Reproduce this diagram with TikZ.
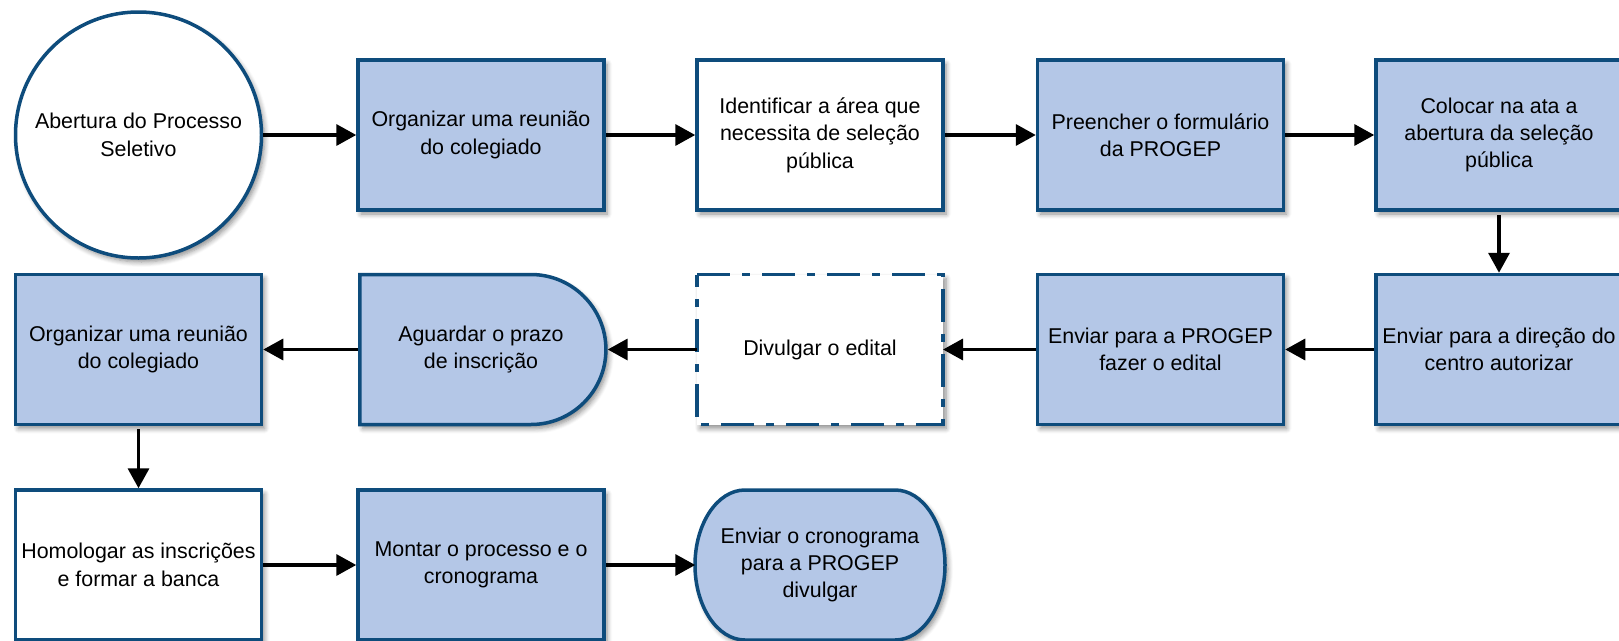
\documentclass[tikz,border=0pt]{standalone}
\usepackage{fontspec}
\setmainfont{Liberation Sans}
\usetikzlibrary{arrows.meta,shapes.misc,shadows.blur}
\definecolor{bord}{RGB}{14,76,124}
\definecolor{fillb}{RGB}{180,199,231}
\tikzset{
  shad/.style={blur shadow={shadow blur steps=6, shadow xshift=3pt, shadow yshift=-4pt, shadow opacity=45, shadow blur radius=5pt}},
  txt/.style={align=center, font=\fontsize{21.4pt}{27.4pt}\selectfont, inner sep=0pt},
  base/.style={txt, draw=bord, line width=3.5pt, shad},
  bluebox/.style={base, rectangle, fill=fillb, minimum width=246pt, minimum height=150pt},
  whitebox/.style={base, rectangle, fill=white, minimum width=246pt, minimum height=150pt},
  dashbox/.style={txt, rectangle, fill=white, shad, minimum width=246pt, minimum height=150pt, outer sep=0pt},
  dashline/.style={draw=bord, line width=3.5pt, line join=miter, dash pattern=on 33pt off 12pt on 8pt off 12pt},
  startcirc/.style={base, circle, fill=white, minimum size=246pt},
  delaybox/.style={base, rounded rectangle, rounded rectangle left arc=none, fill=fillb, minimum width=246pt, minimum height=150pt},
  termtext/.style={txt, rectangle, minimum width=246pt, minimum height=150pt, outer sep=1.75pt},
  termshape/.style={draw=bord, line width=3.5pt, fill=fillb, shad},
  conn/.style={line width=3.5pt, -{Triangle[length=20pt,width=21pt]}, black}
}
\begin{document}
\begin{tikzpicture}[x=1pt,y=-1pt]
\useasboundingbox (0,0) rectangle (1619,640);
% row 1
\node[startcirc] (n0) at (138.5,135) {Abertura do Processo\\Seletivo};
\node[bluebox] (n1) at (481,135) {Organizar uma reunião\\do colegiado};
\node[whitebox] (n2) at (820,135) {Identificar a área que\\necessita de seleção\\pública};
\node[bluebox] (n3) at (1160.5,135) {Preencher o formulário\\da PROGEP};
\node[bluebox] (n4) at (1499,135) {Colocar na ata a\\abertura da seleção\\pública};
% row 2
\node[bluebox] (n5) at (1499,349.5) {Enviar para a direção do\\centro autorizar};
\node[bluebox] (n6) at (1160.5,349.5) {Enviar para a PROGEP\\fazer o edital};
\node[dashbox] (n7) at (820,349.5) {Divulgar o edital};
\draw[dashline] (n7.north west) -- (n7.north east) -- (n7.south east) -- (n7.south west) -- cycle;
\node[delaybox] (n8) at (481,349.5) {Aguardar o prazo\\de inscrição};
\node[bluebox] (n9) at (138.5,349.5) {Organizar uma reunião\\do colegiado};
% row 3
\node[whitebox] (n10) at (138.5,565) {Homologar as inscrições\\e formar a banca};
\node[bluebox] (n11) at (481,565) {Montar o processo e o\\cronograma};
\path[termshape] (745,490) -- (895,490) arc[start angle=-90,end angle=90,x radius=50,y radius=75]
   -- (745,640) arc[start angle=90,end angle=270,x radius=50,y radius=75] -- cycle;
\node[termtext] (n12) at (820,565) {Enviar o cronograma\\para a PROGEP\\divulgar};
% connectors
\draw[conn] (n0.east) -- (n1.west);
\draw[conn] (n1.east) -- (n2.west);
\draw[conn] (n2.east) -- (n3.west);
\draw[conn] (n3.east) -- (n4.west);
\draw[conn, shorten <=3pt] (n4.south) -- (n5.north);
\draw[conn] (n5.west) -- (n6.east);
\draw[conn] (n6.west) -- (n7.east);
\draw[conn] (n7.west) -- (n8.east);
\draw[conn] (n8.west) -- (n9.east);
\draw[conn, shorten <=3pt] (n9.south) -- (n10.north);
\draw[conn] (n10.east) -- (n11.west);
\draw[conn] (n11.east) -- (n12.west);
\end{tikzpicture}
\end{document}
